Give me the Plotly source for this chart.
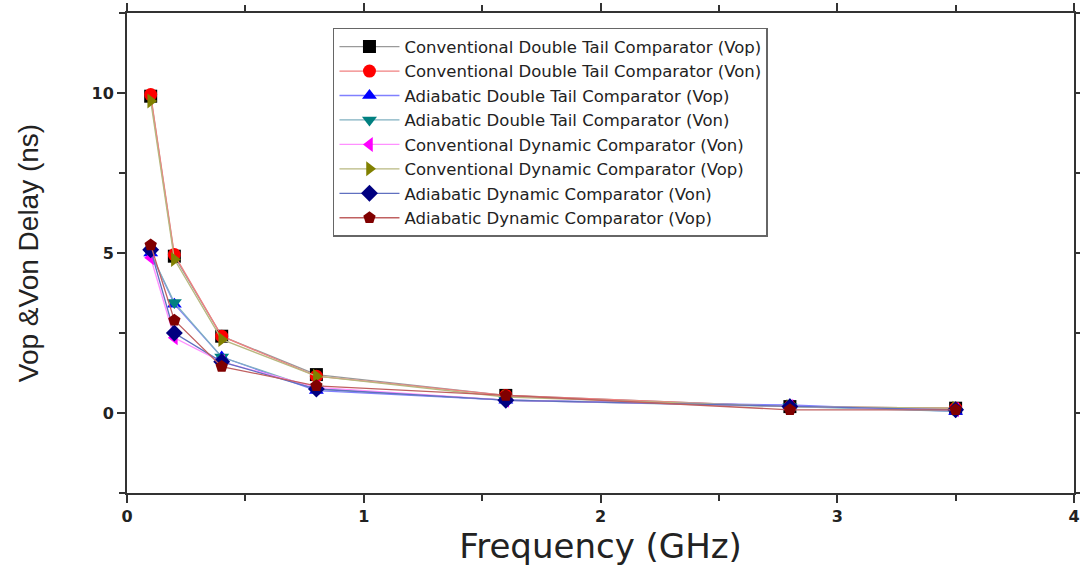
import plotly.graph_objects as go

freq = [0.1, 0.2, 0.4, 0.8, 1.6, 2.8, 3.5]

names = [
    "Conventional Double Tail Comparator (Vop)",
    "Conventional Double Tail Comparator (Von)",
    "Adiabatic Double Tail Comparator (Vop)",
    "Adiabatic Double Tail Comparator (Von)",
    "Conventional Dynamic Comparator (Von)",
    "Conventional Dynamic Comparator (Vop)",
    "Adiabatic Dynamic Comparator (Von)",
    "Adiabatic Dynamic Comparator (Vop)",
]

conv_dt_vop = [9.9, 4.9, 2.4, 1.2, 0.55, 0.2, 0.15]
conv_dt_von = [9.95, 4.95, 2.4, 1.15, 0.55, 0.2, 0.15]
adia_dt_vop = [5.0, 3.4, 1.75, 0.7, 0.4, 0.25, 0.05]
adia_dt_von = [5.0, 3.45, 1.75, 0.75, 0.4, 0.2, 0.05]
conv_dyn_von = [4.85, 2.35, 1.6, 0.8, 0.4, 0.2, 0.1]
conv_dyn_vop = [9.75, 4.8, 2.3, 1.15, 0.5, 0.2, 0.15]
adia_dyn_von = [5.1, 2.5, 1.6, 0.75, 0.4, 0.2, 0.1]
adia_dyn_vop = [5.25, 2.9, 1.45, 0.85, 0.55, 0.1, 0.1]

series = [conv_dt_vop, conv_dt_von, adia_dt_vop, adia_dt_von,
          conv_dyn_von, conv_dyn_vop, adia_dyn_von, adia_dyn_vop]
marker_colors = ["#000000", "#ff0000", "#0000ff", "#008080",
                 "#ff00ff", "#808000", "#000080", "#800000"]
line_colors = ["#9a9a9a", "#f08080", "#8080ff", "#80b0c0",
               "#ff90ff", "#b8b880", "#6070c0", "#c06060"]
symbols = ["square", "circle", "triangle-up", "triangle-down",
           "triangle-left", "triangle-right", "diamond", "pentagon"]

fig = go.Figure()
for nm, ys, mc, lc, sym in zip(names, series, marker_colors, line_colors, symbols):
    fig.add_trace(go.Scatter(
        x=freq, y=ys, name=nm, mode="lines+markers",
        line=dict(color=lc, width=1.3),
        marker=dict(symbol=sym, color=mc, size=13, line=dict(width=0)),
    ))

axis_common = dict(
    showgrid=False, zeroline=False, showline=True, linecolor="#333333",
    linewidth=2, mirror="ticks", ticks="outside", ticklen=8, tickwidth=2,
    tickcolor="#333333", automargin=False,
    tickfont=dict(family="DejaVu Sans", size=16, color="#222222", weight="bold"),
)

fig.update_layout(
    width=1080, height=570,
    margin=dict(l=127, r=6, t=13, b=77),
    plot_bgcolor="white", paper_bgcolor="white",
    xaxis=dict(range=[0, 4], tickvals=[0, 1, 2, 3, 4],
               minor=dict(tickvals=[0.5, 1.5, 2.5, 3.5], ticks="outside",
                          ticklen=6, tickwidth=2, tickcolor="#333333"),
               title=dict(text="Frequency (GHz)", standoff=8,
                          font=dict(family="DejaVu Sans", size=34, color="#222222")),
               **axis_common),
    yaxis=dict(range=[-2.5, 12.5], tickvals=[0, 5, 10],
               minor=dict(tickvals=[-2.5, 2.5, 7.5, 12.5], ticks="outside",
                          ticklen=6, tickwidth=2, tickcolor="#333333"),
               title=dict(text="Vop &Von Delay (ns)", standoff=45,
                          font=dict(family="Liberation Sans", size=28, color="#222222")),
               **axis_common),
    legend=dict(x=0.2175, y=0.969, xanchor="left", yanchor="top",
                bgcolor="white", bordercolor="#666666", borderwidth=1.5,
                font=dict(family="DejaVu Sans", size=16.5, color="#222222"),
                tracegroupgap=0, itemwidth=60),
    showlegend=True,
)

fig.write_html("out.html", config={"displayModeBar": False},
               post_script="document.body.style.margin='0';")
